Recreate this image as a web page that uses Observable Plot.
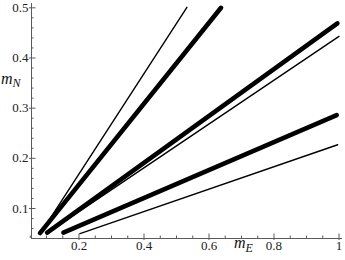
<!DOCTYPE html>
<html>
<head>
<meta charset="utf-8">
<script src="https://cdn.jsdelivr.net/npm/d3@7"></script>
<script src="https://cdn.jsdelivr.net/npm/@observablehq/plot@0.6"></script>
<style>
  html, body { margin: 0; padding: 0; background: #fff; }
  #chart { width: 345px; height: 260px; }
  #chart svg text { font-family: 'Liberation Serif', 'DejaVu Serif', serif; }
</style>
</head>
<body>
<div id="chart"></div>
<script>
// ---- data ----
const lineIds = ["a-bold", "a-thin", "b-bold", "b-thin", "c-bold", "c-thin"];
const lineKind = ["bold", "thin", "bold", "thin", "bold", "thin"];
const startE = [0.080, 0.082, 0.102, 0.104, 0.152, 0.203];
const startN = [0.051, 0.051, 0.052, 0.052, 0.052, 0.050];
const endE   = [0.637, 0.532, 0.995, 1.000, 0.993, 0.996];
const endN   = [0.500, 0.501, 0.469, 0.443, 0.286, 0.227];

const xMajorTicks = [0.2, 0.4, 0.6, 0.8, 1.0];
const xMinorTicks = [0.05, 0.1, 0.15, 0.25, 0.3, 0.35, 0.45, 0.5, 0.55, 0.65, 0.7, 0.75, 0.85, 0.9, 0.95];
const yMajorTicks = [0.1, 0.2, 0.3, 0.4, 0.5];
const yMinorTicks = [0.06, 0.08, 0.12, 0.14, 0.16, 0.18, 0.22, 0.24, 0.26, 0.28, 0.32, 0.34, 0.36, 0.38, 0.42, 0.44, 0.46, 0.48];

const xDomain = [0.0538, 1.0108];
const yDomain = [0.0402, 0.5086];

const segments = lineIds.map((id, i) => ({
  id, kind: lineKind[i], x1: startE[i], y1: startN[i], x2: endE[i], y2: endN[i]
}));

// ---- layout ----
const W = 345, H = 260;
const mL = 31, mR = 3, mT = 3, mB = 22;
const plotW = W - mL - mR, plotH = H - mT - mB;
const axisColor = "#5a5a5a";
const font = "'Liberation Serif', 'DejaVu Serif', serif";
const fmt = d => (d === 1 ? "1" : d.toFixed(1));

const chart = Plot.plot({
  width: W, height: H,
  marginLeft: mL, marginRight: mR, marginTop: mT, marginBottom: mB,
  style: { fontFamily: font, fontSize: "13px", color: "#222", background: "#fff" },
  x: { domain: xDomain, label: null },
  y: { domain: yDomain, label: null },
  marks: [
    // axis lines
    Plot.ruleX([xDomain[0]], { stroke: axisColor, strokeWidth: 1 }),
    Plot.ruleY([yDomain[0]], { stroke: axisColor, strokeWidth: 1 }),
    // y ticks (inward)
    Plot.tickY(yMajorTicks, { y: d => d, stroke: axisColor, insetLeft: -2, insetRight: plotW - 4.5 }),
    Plot.tickY(yMinorTicks, { y: d => d, stroke: axisColor, insetLeft: 0, insetRight: plotW - 2.5 }),
    // x ticks (inward)
    Plot.tickX(xMajorTicks, { x: d => d, stroke: axisColor, insetBottom: -2, insetTop: plotH - 4.5 }),
    Plot.tickX(xMinorTicks, { x: d => d, stroke: axisColor, insetBottom: 0, insetTop: plotH - 2.5 }),
    // tick labels
    Plot.axisX({ ticks: xMajorTicks, tickSize: 0, tickPadding: 2, tickFormat: fmt, label: null, fill: "#222", fontSize: 13, fontFamily: font }),
    Plot.axisY({ ticks: yMajorTicks, tickSize: 0, tickPadding: 3, tickFormat: fmt, label: null, fill: "#222", fontSize: 13, fontFamily: font }),
    // data lines
    Plot.link(segments.filter(d => d.kind === "thin"), {
      x1: "x1", y1: "y1", x2: "x2", y2: "y2", stroke: "#000", strokeWidth: 1.4, strokeLinecap: "round"
    }),
    Plot.link(segments.filter(d => d.kind === "bold"), {
      x1: "x1", y1: "y1", x2: "x2", y2: "y2", stroke: "#000", strokeWidth: 4.6, strokeLinecap: "round"
    })
  ]
});

document.getElementById("chart").appendChild(chart);

// axis titles with subscripts
const svg = d3.select(chart);
const yt = svg.append("text").attr("x", 1).attr("y", 83.5).attr("text-anchor", "start")
  .attr("font-family", font).attr("font-style", "italic").attr("fill", "#111");
yt.append("tspan").attr("font-size", 16).text("m");
yt.append("tspan").attr("font-size", 12).attr("dy", 3.5).text("N");

const xt = svg.append("text").attr("x", 234).attr("y", 248).attr("text-anchor", "start")
  .attr("font-family", font).attr("font-style", "italic").attr("fill", "#111");
xt.append("tspan").attr("font-size", 16).text("m");
xt.append("tspan").attr("font-size", 12).attr("dy", 3.5).text("E");
</script>
</body>
</html>
